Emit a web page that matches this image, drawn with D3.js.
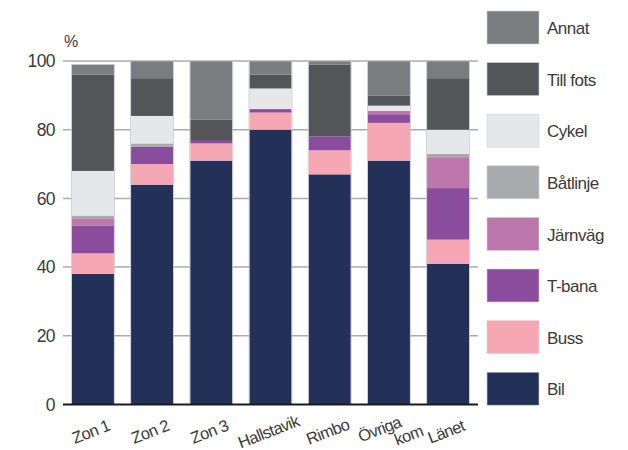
<!DOCTYPE html>
<html>
<head>
<meta charset="utf-8">
<script src="https://cdn.jsdelivr.net/npm/d3@7"></script>
<style>
  html, body { margin: 0; padding: 0; background: #fff; }
  svg { display: block; }
  text { font-family: "Liberation Sans", Arial, Helvetica, sans-serif; fill: #3a3a3a; }
</style>
</head>
<body>
<svg id="chart" width="628" height="450"></svg>
<script>
// Travel mode shares (%) per area
const categories = ["Zon 1", "Zon 2", "Zon 3", "Hallstavik", "Rimbo", "Övriga kom", "Länet"];
const modes = ["Bil", "Buss", "T-bana", "Järnväg", "Båtlinje", "Cykel", "Till fots", "Annat"];

const bil      = [38, 64, 71, 80, 67, 71,   41];
const buss     = [ 6,  6,  5,  5,  7, 11,    7];
const tbana    = [ 8,  5,  1,  1,  4,  2.5, 15];
const jarnvag  = [ 2,  0,  0,  0,  0,  1,    9];
const batlinje = [ 1,  1,  0,  0,  0,  0,    1];
const cykel    = [13,  8,  0,  6,  0,  1.5,  7];
const tillFots = [28, 11,  6,  4, 21,  3,   15];
const annat    = [ 3,  5, 17,  4,  1, 10,    5];

const yTicks = [0, 20, 40, 60, 80, 100];

const colors = ["#233158", "#f5a8b3", "#8a4c9d", "#bc78ad", "#a9aaad", "#e6e7e9", "#545558", "#7b7c80"];

const seriesValues = [bil, buss, tbana, jarnvag, batlinje, cykel, tillFots, annat];
const table = categories.map((c, i) => {
  const row = { category: c };
  modes.forEach((m, k) => { row[m] = seriesValues[k][i]; });
  return row;
});

const svg = d3.select("#chart");

const x = d3.scaleBand()
  .domain(categories)
  .range([63, 478])
  .paddingInner(0.29)
  .paddingOuter(0.15);

const y = d3.scaleLinear().domain([0, 100]).range([404.5, 61]);

const color = d3.scaleOrdinal().domain(modes).range(colors);

// Gridlines
svg.append("g")
  .selectAll("line")
  .data(yTicks.filter(d => d > 0))
  .join("line")
  .attr("x1", 63).attr("x2", 478)
  .attr("y1", d => y(d)).attr("y2", d => y(d))
  .attr("stroke", "#ababab")
  .attr("stroke-width", 1.5);

// Y tick labels
svg.append("g")
  .selectAll("text")
  .data(yTicks)
  .join("text")
  .attr("x", 55)
  .attr("y", d => y(d))
  .attr("dy", "0.36em")
  .attr("text-anchor", "end")
  .attr("font-size", 17.5)
  .attr("letter-spacing", -0.6)
  .text(d => d);

svg.append("text")
  .attr("x", 64).attr("y", 47)
  .attr("font-size", 16)
  .text("%");

// Stacked bars
const stacked = d3.stack().keys(modes)(table);

svg.append("g")
  .selectAll("g")
  .data(stacked)
  .join("g")
  .attr("fill", d => color(d.key))
  .selectAll("rect")
  .data(d => d)
  .join("rect")
  .attr("x", d => x(d.data.category))
  .attr("width", x.bandwidth())
  .attr("y", d => y(d[1]))
  .attr("height", d => y(d[0]) - y(d[1]));

// Bar outlines
svg.append("g")
  .selectAll("rect")
  .data(table)
  .join("rect")
  .attr("x", d => x(d.category) - 0.5)
  .attr("width", x.bandwidth() + 1)
  .attr("y", d => y(d3.sum(modes, m => d[m])))
  .attr("height", d => y(0) - y(d3.sum(modes, m => d[m])))
  .attr("fill", "none")
  .attr("stroke", "#c8c8cc")
  .attr("stroke-width", 0.8);

// Baseline
svg.append("line")
  .attr("x1", 63).attr("x2", 478)
  .attr("y1", y(0)).attr("y2", y(0))
  .attr("stroke", "#1a1a1a")
  .attr("stroke-width", 2);

// Category labels, slanted
const xl = svg.append("g")
  .selectAll("text")
  .data(categories)
  .join("text")
  .attr("font-size", 16.5)
  .attr("letter-spacing", -0.7)
  .attr("text-anchor", "middle")
  .attr("transform", d => `translate(${x(d) + x.bandwidth() / 2},${437}) rotate(-21)`);

xl.each(function (d) {
  const t = d3.select(this);
  if (d === "Övriga kom") {
    const parts = d.split(" ");
    t.append("tspan").attr("x", -6).attr("y", -5).text(parts[0]);
    t.append("tspan").attr("x", 19).attr("y", 11).text(parts[1]);
  } else {
    t.text(d);
  }
});

// Legend, top entry drawn first
const legendOrder = modes.slice().reverse();
const legend = svg.append("g")
  .selectAll("g")
  .data(legendOrder)
  .join("g")
  .attr("transform", (d, i) => `translate(487,${11 + i * 51.6})`);

legend.append("rect")
  .attr("width", 52).attr("height", 33)
  .attr("fill", d => color(d))
  .attr("stroke", "#d4d4d6")
  .attr("stroke-width", 0.6);

legend.append("text")
  .attr("x", 60).attr("y", 17)
  .attr("dy", "0.36em")
  .attr("font-size", 17)
  .attr("letter-spacing", -0.5)
  .text(d => d);
</script>
</body>
</html>
